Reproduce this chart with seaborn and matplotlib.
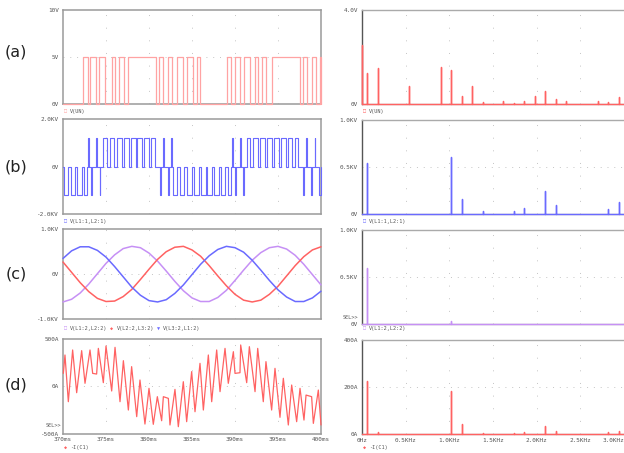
import numpy as np
import matplotlib
matplotlib.use("Agg")
import matplotlib.pyplot as plt
import seaborn as sns

sns.set_style("white")
plt.rcParams["font.family"] = ["DejaVu Sans Mono", "DejaVu Sans"]

W, H = 624, 453

# ---- (a) V(UN): 0/5 V pulses, edges in ms
un_on = [372.36, 373.14, 374.22, 375.64, 376.53, 377.56, 381.16, 382.21, 383.31, 384.42,
         385.55, 389.03, 390.00, 391.10, 392.33, 393.14, 394.27, 397.94, 398.92, 399.88]
un_off = [372.85, 373.84, 374.94, 375.99, 377.07, 380.76, 381.63, 382.71, 383.90, 385.15,
          385.93, 389.53, 390.58, 391.74, 392.71, 393.66, 397.56, 398.40, 399.42, 400.00]
un_level = 5.0

# ---- (b) V(L1:1,L2:1): +/- pulses (kV), edges in ms
ll_on = [370.15, 370.92, 371.68, 372.44, 372.94, 373.30, 373.88, 374.26,
         374.69, 375.48, 376.28, 377.07, 377.87, 378.66, 379.45, 380.25,
         381.30, 381.62, 382.20, 382.60,
         382.83, 383.62, 384.42, 385.21, 386.01, 386.80, 387.59, 388.39, 389.18,
         389.70, 390.05, 390.60, 390.97,
         391.36, 392.15, 392.95, 393.74, 394.54, 395.33, 396.12, 396.92,
         397.94, 398.26, 398.88, 399.28, 399.75]
ll_off = [370.62, 371.40, 372.18, 372.84, 373.02, 373.38, 373.96, 374.34,
          375.11, 375.98, 376.84, 377.67, 378.47, 379.22, 379.95, 380.67,
          381.38, 381.70, 382.28, 382.68,
          383.25, 384.12, 384.98, 385.81, 386.61, 387.36, 388.09, 388.81, 389.56,
          389.78, 390.13, 390.68, 391.05,
          391.78, 392.65, 393.51, 394.34, 395.14, 395.89, 396.62, 397.34,
          398.02, 398.34, 398.96, 399.36, 400.00]
ll_sign = [-1, -1, -1, -1, 1, -1, 1, -1,
           1, 1, 1, 1, 1, 1, 1, 1,
           -1, 1, -1, 1,
           -1, -1, -1, -1, -1, -1, -1, -1, -1,
           1, -1, 1, -1,
           1, 1, 1, 1, 1, 1, 1, 1,
           -1, 1, -1, 1, -1]
ll_level = 1.2

# ---- (c) line voltages (kV), read every 1 ms
t_c = list(range(370, 401))
v_l1l2 = [-0.62, -0.56, -0.42, -0.22, 0.01, 0.24, 0.43, 0.57, 0.62, 0.59, 0.47, 0.29, 0.07,
          -0.16, -0.37, -0.53, -0.61, -0.61, -0.52, -0.36, -0.14, 0.09, 0.31, 0.48, 0.59,
          0.62, 0.56, 0.42, 0.22, -0.01, -0.24]
v_l2l3 = [0.27, 0.04, -0.19, -0.39, -0.54, -0.61, -0.60, -0.50, -0.34, -0.12, 0.11, 0.33,
          0.50, 0.60, 0.62, 0.54, 0.40, 0.19, -0.04, -0.26, -0.45, -0.58, -0.62, -0.58,
          -0.45, -0.27, -0.04, 0.19, 0.39, 0.54, 0.61]
v_l3l1 = [0.35, 0.52, 0.61, 0.61, 0.53, 0.38, 0.17, -0.06, -0.29, -0.47, -0.59, -0.62, -0.57,
          -0.43, -0.24, -0.01, 0.22, 0.41, 0.55, 0.62, 0.59, 0.49, 0.31, 0.09, -0.14, -0.35,
          -0.51, -0.61, -0.61, -0.53, -0.38]

# ---- (d) -I(C1) (A), vertices
t_d = [370.04, 370.23, 370.62, 371.12, 371.59, 372.17, 372.56, 373.14, 373.45, 373.91,
       374.11, 374.69, 375.00, 375.66, 376.05, 376.63, 377.02, 377.60, 377.98, 378.57,
       378.95, 379.53, 380.00, 380.50, 380.97, 381.47, 381.67, 382.25, 382.44, 383.02,
       383.41, 383.99, 384.38, 384.96, 385.35, 385.93, 386.32, 386.90, 387.29, 387.87,
       388.26, 388.84, 389.22, 389.81, 390.00, 390.58, 390.66, 391.36, 391.67, 392.33,
       392.64, 393.29, 393.60, 394.26, 394.65, 395.23, 395.62, 396.20, 396.59, 397.17,
       397.56, 398.02, 398.26, 398.91, 399.11, 399.69, 400.00]
i_c1 = [137, 331, -162, 384, -67, 377, 32, 384, 137, 130,
        401, 39, 426, -49, 412, -162, 271, -250, 208, -320,
        67, -398, -21, -401, -109, -363, -109, -127, -408, -32,
        -426, 49, -373, 155, -268, 243, -250, 331, -162, 384,
        -56, 401, 32, 366, 137, 144, 437, 39, 419, -56,
        401, -162, 261, -250, 190, -327, 85, -408, 14, -373,
        -21, -356, -92, -109, -391, -39, -408]

# ---- spectra (Hz, magnitude)
fa_freq = [0, 60, 180, 540, 900, 1020, 1140, 1260, 1380, 1500, 1620, 1740, 1860, 1980,
           2100, 2220, 2340, 2700, 2820, 2940]
fa_mag = [2.52, 1.31, 1.55, 0.79, 1.60, 1.46, 0.35, 0.78, 0.08, 0.03, 0.16, 0.07, 0.16,
          0.35, 0.58, 0.24, 0.13, 0.16, 0.11, 0.31]
fb_freq = [60, 1020, 1140, 1380, 1740, 1860, 2100, 2220, 2820, 2940]
fb_mag = [0.548, 0.604, 0.159, 0.035, 0.035, 0.07, 0.247, 0.10, 0.056, 0.134]
fc_freq = [60, 1020]
fc_mag = [0.594, 0.04]
fd_freq = [60, 180, 1020, 1140, 1380, 1740, 1860, 2100, 2220, 2820, 2940]
fd_mag = [227, 8, 184, 42, 7, 7, 11, 35, 15, 8, 15]

PINK = "#ffa3a3"
RED = "#ff6262"
BLUE = "#6a6aff"
PURPLE = "#c690f5"
GREY_TXT = "#555555"


def pulses(on, off, levels):
    """Vertices of a 0-based pulse train."""
    t, v = [370.0], [0.0]
    for a, b, lv in zip(on, off, levels):
        t += [a, a, b, b]
        v += [0.0, lv, lv, 0.0]
    t.append(400.0)
    v.append(0.0)
    return np.array(t), np.array(v)


def spectrum(freq, mag):
    f, m = [0.0], [0.0]
    for a, b in zip(freq, mag):
        f += [a / 1000, a / 1000, a / 1000]
        m += [0.0, b, 0.0]
    f.append(3.0)
    m.append(0.0)
    return np.array(f), np.array(m)


def px_axes(x0, y0, x1, y1):
    return fig.add_axes([x0 / W, 1 - y1 / H, (x1 - x0) / W, (y1 - y0) / H])


def ftext(x, y, s, **kw):
    kw.setdefault("fontsize", 3.7)
    kw.setdefault("color", GREY_TXT)
    kw.setdefault("va", "center")
    fig.text(x / W, 1 - y / H, s, **kw)


def style(ax, yt, ylab, left_side, mid_row=True):
    ax.set_yticks(yt)
    ax.set_yticklabels(ylab)
    ax.set_ylim(yt[0], yt[-1])
    ax.tick_params(axis="both", labelsize=4.3, colors=GREY_TXT, length=2, width=0.6, pad=1)
    ax.tick_params(axis="x", length=0)
    ax.set_xlabel("")
    ax.set_ylabel("")
    if left_side:
        ax.set_xlim(370, 400)
        ax.set_xticks([370, 375, 380, 385, 390, 395, 400])
        for s in ax.spines.values():
            s.set_color("#9a9a9a")
            s.set_linewidth(1.1)
        gx = [375, 380, 385, 390, 395]
    else:
        ax.set_xlim(0, 3.0)
        ax.set_xticks([0, 0.5, 1.0, 1.5, 2.0, 2.5, 3.0])
        ax.spines["right"].set_visible(False)
        ax.spines["left"].set_color("#555555")
        ax.spines["top"].set_color("#aaaaaa")
        ax.spines["bottom"].set_color("#aaaaaa")
        for s in ax.spines.values():
            s.set_linewidth(1.0)
        gx = [0.5, 1.0, 1.5, 2.0, 2.5]
    for x in gx:
        ax.axvline(x, color="#c4c4c4", lw=0.7, ls=(0, (1, 12)), zorder=0)
    if mid_row:
        ax.axhline((yt[0] + yt[-1]) / 2, color="#c4c4c4", lw=0.7, ls=(0, (1, 6)), zorder=0)
    ax.set_xticklabels([])


fig = plt.figure(figsize=(W / 100, H / 100), dpi=100)

La = px_axes(63, 10, 321, 104.3)
Lb = px_axes(63, 119.3, 321, 214.3)
Lc = px_axes(63, 229.3, 321, 319)
Ld = px_axes(63, 339, 321, 433.7)
Ra = px_axes(362, 10, 624, 104.3)
Rb = px_axes(362, 120, 624, 214.3)
Rc = px_axes(362, 230, 624, 324.3)
Rd = px_axes(362, 340, 624, 434.3)

line_kw = dict(sort=False, estimator=None, zorder=3, clip_on=False)

# time-domain traces
t, v = pulses(un_on, un_off, [un_level] * len(un_on))
sns.lineplot(x=t, y=v, ax=La, color=PINK, lw=0.9, **line_kw)
t, v = pulses(ll_on, ll_off, [s * ll_level for s in ll_sign])
sns.lineplot(x=t, y=v, ax=Lb, color=BLUE, lw=0.8, **line_kw)
sns.lineplot(x=t_c, y=v_l1l2, ax=Lc, color=PURPLE, lw=1.1, **line_kw)
sns.lineplot(x=t_c, y=v_l2l3, ax=Lc, color=RED, lw=1.1, **line_kw)
sns.lineplot(x=t_c, y=v_l3l1, ax=Lc, color=BLUE, lw=1.1, **line_kw)
sns.lineplot(x=t_d, y=i_c1, ax=Ld, color=RED, lw=0.9, **line_kw)

# spectra
for ax, fr, mg, col in [(Ra, fa_freq, fa_mag, RED), (Rb, fb_freq, fb_mag, BLUE),
                        (Rc, fc_freq, fc_mag, PURPLE), (Rd, fd_freq, fd_mag, RED)]:
    f, m = spectrum(fr, mg)
    sns.lineplot(x=f, y=m, ax=ax, color=col, lw=1.0, **line_kw)

style(La, [0, 5, 10], ["0V", "5V", "10V"], True)
style(Lb, [-2, 0, 2], ["-2.0KV", "0V", "2.0KV"], True)
style(Lc, [-1, 0, 1], ["-1.0KV", "0V", "1.0KV"], True)
style(Ld, [-500, 0, 500], ["-500A", "0A", "500A"], True)
style(Ra, [0, 4], ["0V", "4.0V"], False, mid_row=False)
style(Rb, [0, 0.5, 1.0], ["0V", "0.5KV", "1.0KV"], False)
style(Rc, [0, 0.5, 1.0], ["0V", "0.5KV", "1.0KV"], False)
style(Rd, [0, 200, 400], ["0A", "200A", "400A"], False)

Ld.set_xticklabels(["370ms", "375ms", "380ms", "385ms", "390ms", "395ms", "400ms"])
Rd.set_xticklabels(["0Hz", "0.5KHz", "1.0KHz", "1.5KHz", "2.0KHz", "2.5KHz", "3.0KHz"])
Rd.get_xticklabels()[-1].set_horizontalalignment("right")
for ax in (Ld, Rd):
    ax.tick_params(axis="x", pad=2.5)

# legends below each panel
ftext(65.5, 111, "□", color=PINK, ha="center")
ftext(70, 111, "V(UN)")
ftext(364.5, 111, "□", color=RED, ha="center")
ftext(369, 111, "V(UN)")
ftext(65.5, 221, "□", color=BLUE, ha="center")
ftext(70, 221, "V(L1:1,L2:1)")
ftext(364.5, 221, "□", color=BLUE, ha="center")
ftext(369, 221, "V(L1:1,L2:1)")
ftext(65.5, 328.3, "□", color=PURPLE, ha="center")
ftext(70, 328.3, "V(L1:2,L2:2)")
ftext(112, 328.3, "◆", color=RED, ha="center")
ftext(116.5, 328.3, "V(L2:2,L3:2)")
ftext(158.5, 328.3, "▼", color=BLUE, ha="center")
ftext(163, 328.3, "V(L3:2,L1:2)")
ftext(364.5, 328.3, "□", color=PURPLE, ha="center")
ftext(369, 328.3, "V(L1:2,L2:2)")
ftext(65.5, 447.7, "◆", color=RED, ha="center")
ftext(70, 447.7, "-I(C1)")
ftext(364.5, 447.7, "◆", color=RED, ha="center")
ftext(369, 447.7, "-I(C1)")

ftext(61, 425.7, "SEL>>", ha="right")
ftext(358, 317.3, "SEL>>", ha="right")

# panel labels
for y, lab in [(52, "(a)"), (166.5, "(b)"), (274, "(c)"), (385, "(d)")]:
    fig.text(16 / W, 1 - y / H, lab, fontsize=11.5, family="DejaVu Sans", color="#222222",
             ha="center", va="center")

plt.savefig("out.png", dpi=100)
plt.close()
